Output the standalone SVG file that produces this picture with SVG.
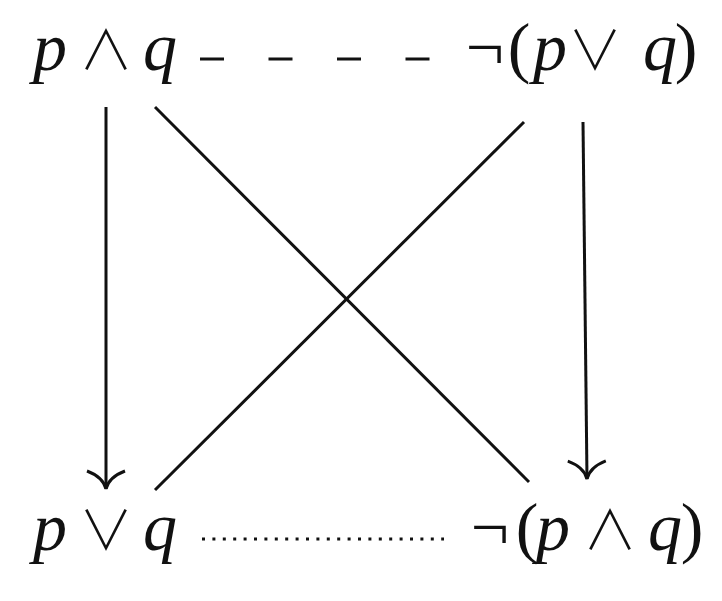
<svg xmlns="http://www.w3.org/2000/svg" width="722" height="601" viewBox="0 0 722 601">
<style>
.ln{stroke:#111;stroke-width:3;fill:none}
</style>
<defs>
<marker id="arr" markerUnits="userSpaceOnUse" viewBox="-24 -24 48 48" refX="0" refY="0" markerWidth="48" markerHeight="48" orient="auto">
<path d="M-18,-19 Q-12,-3 0,0 Q-12,3 -18,19" stroke="#111" stroke-width="3" fill="none"/>
</marker>
</defs>
<rect width="722" height="601" fill="#fff"/>
<g id="connectors">
<line class="ln" x1="200" y1="59" x2="430" y2="59" stroke-dasharray="24 44.5"/>
<line class="ln" x1="202" y1="539" x2="444" y2="539" stroke-dasharray="3 7.4"/>
<line class="ln" x1="106" y1="107" x2="106" y2="489" marker-end="url(#arr)"/>
<line class="ln" x1="583" y1="122" x2="587" y2="479" marker-end="url(#arr)"/>
<line class="ln" x1="155" y1="107" x2="529" y2="482"/>
<line class="ln" x1="524" y1="122" x2="155" y2="490"/>
</g>
<g font-family="Liberation Serif" font-size="68" fill="#111" text-anchor="middle">
<g id="node-top-left">
<text font-style="italic" x="50" y="70">p</text>
<text font-family="Noto Sans CJK JP" font-weight="300" font-size="54" x="106" y="70">∧</text>
<text font-style="italic" x="160" y="70">q</text>
</g>
<g id="node-top-right">
<text x="485" y="70">¬</text>
<text x="519" y="70">(</text>
<text font-style="italic" x="550" y="70">p</text>
<text font-family="Noto Sans CJK JP" font-weight="300" font-size="54" x="595" y="70">∨</text>
<text font-style="italic" x="660" y="70">q</text>
<text x="686" y="70">)</text>
</g>
<g id="node-bottom-left">
<text font-style="italic" x="50" y="550">p</text>
<text font-family="Noto Sans CJK JP" font-weight="300" font-size="54" x="106" y="550">∨</text>
<text font-style="italic" x="160" y="550">q</text>
</g>
<g id="node-bottom-right">
<text x="490" y="550">¬</text>
<text x="527" y="550">(</text>
<text font-style="italic" x="553" y="550">p</text>
<text font-family="Noto Sans CJK JP" font-weight="300" font-size="54" x="610" y="550">∧</text>
<text font-style="italic" x="665" y="550">q</text>
<text x="692" y="550">)</text>
</g>
</g>
</svg>
